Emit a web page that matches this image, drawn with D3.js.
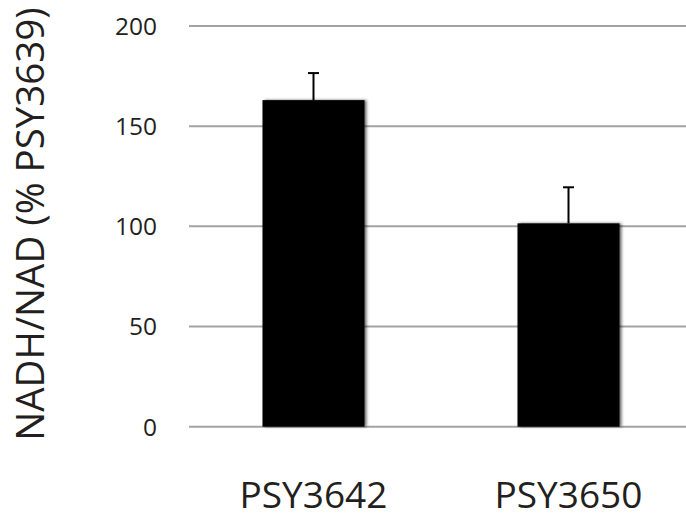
<!DOCTYPE html>
<html><head><meta charset="utf-8">
<script src="https://cdn.jsdelivr.net/npm/d3@7"></script>
<style>html,body{margin:0;padding:0;background:#fff;}</style>
</head><body>
<svg id="chart" width="686" height="519"></svg>
<script>
const categories = ["PSY3642", "PSY3650"];
const values = [163, 101.5];
const errors = [13.5, 18];
const yTicks = [0, 50, 100, 150, 200];
const yLabel = "NADH/NAD (% PSY3639)";

const svg = d3.select("#chart");
const x = d3.scaleBand().domain(categories).range([186, 696]).paddingInner(0.6).paddingOuter(0.3);
const y = d3.scaleLinear().domain([0, 200]).range([426.7, 26]);

const defs = svg.append("defs");
const f = defs.append("filter").attr("id","sh").attr("x","-10%").attr("y","-10%").attr("width","130%").attr("height","120%");
f.append("feGaussianBlur").attr("in","SourceAlpha").attr("stdDeviation",1.5).attr("result","b");
f.append("feOffset").attr("in","b").attr("dx",2).attr("dy",0).attr("result","o");
f.append("feComponentTransfer").attr("in","o").attr("result","o2").append("feFuncA").attr("type","linear").attr("slope",0.6);
const m = f.append("feMerge"); m.append("feMergeNode").attr("in","o2"); m.append("feMergeNode").attr("in","SourceGraphic");

// gridlines
svg.append("g").selectAll("line").data(yTicks).join("line")
  .attr("x1",189).attr("x2",686)
  .attr("y1",d=>y(d)).attr("y2",d=>y(d))
  .attr("stroke","#a3a3a3").attr("stroke-width",2);

// y tick labels
svg.append("g").selectAll("text").data(yTicks).join("text")
  .attr("x",157).attr("y",d=>y(d)).attr("dy","0.36em")
  .attr("text-anchor","end")
  .attr("font-family","'Open Sans', sans-serif").attr("font-size",24.5)
  .attr("fill","#231f20").text(d=>d);

// bars
svg.append("g").selectAll("rect").data(categories).join("rect")
  .attr("x",d=>x(d)).attr("width",x.bandwidth())
  .attr("y",(d,i)=>y(values[i])).attr("height",(d,i)=>y(0)-y(values[i]))
  .attr("fill","#040404").attr("filter","url(#sh)");

// error bars
const eg = svg.append("g").attr("stroke","#000").attr("stroke-width",2);
categories.forEach((c,i)=>{
  const cx = x(c)+x.bandwidth()/2;
  eg.append("line").attr("x1",cx).attr("x2",cx).attr("y1",y(values[i])).attr("y2",y(values[i]+errors[i]));
  eg.append("line").attr("x1",cx-5.5).attr("x2",cx+5.5).attr("y1",y(values[i]+errors[i])).attr("y2",y(values[i]+errors[i]));
});

// x labels
svg.append("g").selectAll("text").data(categories).join("text")
  .attr("x",d=>x(d)+x.bandwidth()/2).attr("y",508)
  .attr("text-anchor","middle")
  .attr("font-family","'Open Sans', sans-serif").attr("font-size",37)
  .attr("fill","#231f20").text(d=>d);

// y label
svg.append("text")
  .attr("transform","translate(44,224) rotate(-90)")
  .attr("text-anchor","middle")
  .attr("font-family","'Open Sans', sans-serif").attr("font-size",38.5)
  .attr("fill","#231f20").text(yLabel);
</script>
</body></html>
